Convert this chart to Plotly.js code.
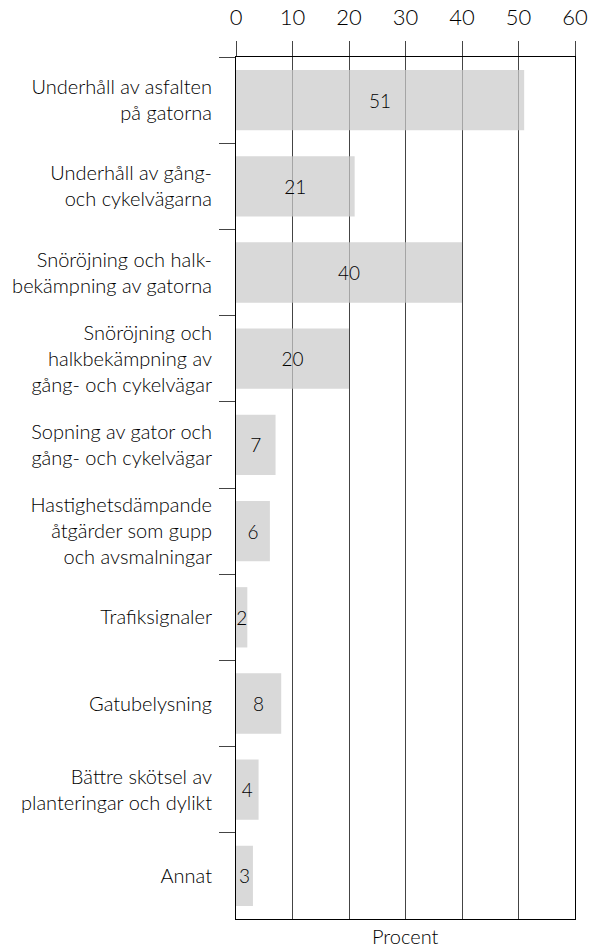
<!DOCTYPE html>
<html>
<head>
<meta charset="utf-8">
<script src="https://cdn.plot.ly/plotly-3.0.1.min.js"></script>
<style>html,body{margin:0;padding:0;background:#fff;}#chart{width:589px;height:948px;}</style>
</head>
<body>
<div id="chart"></div>
<script>
const categories = [
  "Underhåll av asfalten<br>på gatorna",
  "Underhåll av gång-<br>och cykelvägarna",
  "Snöröjning och halk-<br>bekämpning av gatorna",
  "Snöröjning och<br>halkbekämpning av<br>gång- och cykelvägar",
  "Sopning av gator och<br>gång- och cykelvägar",
  "Hastighetsdämpande<br>åtgärder som gupp<br>och avsmalningar",
  "Trafiksignaler",
  "Gatubelysning",
  "Bättre skötsel av<br>planteringar och dylikt",
  "Annat"
];
const values = [51, 21, 40, 20, 7, 6, 2, 8, 4, 3];
const xTitle = "Procent";

const FONT = "Lato, 'Open Sans', sans-serif";

const trace = {
  type: "bar",
  orientation: "h",
  y: categories,
  x: values,
  width: 0.7,
  marker: {color: "rgba(202,202,202,0.72)", line: {width: 0}},
  text: values.map(String),
  textposition: "inside",
  insidetextanchor: "middle",
  constraintext: "none",
  textfont: {family: FONT, size: 19, color: "#000", weight: 300},
  hoverinfo: "none"
};

const layout = {
  width: 589,
  height: 948,
  margin: {l: 236, r: 14, t: 57, b: 29},
  paper_bgcolor: "#fff",
  plot_bgcolor: "#fff",
  showlegend: false,
  font: {family: FONT, size: 19, color: "#000", weight: 300},
  xaxis: {
    side: "top",
    range: [0, 60],
    dtick: 10,
    tick0: 0,
    showgrid: true,
    gridcolor: "#444",
    gridwidth: 1,
    zeroline: false,
    ticks: "outside",
    ticklen: 15,
    tickcolor: "#444",
    tickwidth: 1,
    ticklabelstandoff: 7,
    showline: true,
    linecolor: "#000",
    linewidth: 1,
    mirror: true,
    tickfont: {family: FONT, size: 22, color: "#000", weight: 300},
    fixedrange: true
  },
  yaxis: {
    type: "category",
    autorange: "reversed",
    tickson: "boundaries",
    ticks: "outside",
    ticklen: 16,
    tickcolor: "#444",
    tickwidth: 1,
    showgrid: false,
    showline: true,
    linecolor: "#000",
    linewidth: 1,
    mirror: true,
    ticklabelstandoff: 19,
    tickfont: {family: FONT, size: 20, color: "#000", weight: 300},
    fixedrange: true
  },
  annotations: [{
    text: xTitle,
    xref: "paper", yref: "paper",
    x: 0.5, y: 0,
    xanchor: "center", yanchor: "top",
    yshift: -3,
    showarrow: false,
    font: {family: FONT, size: 20, color: "#000", weight: 300}
  }]
};

Plotly.newPlot("chart", [trace], layout, {displayModeBar: false, staticPlot: true});
</script>
</body>
</html>
